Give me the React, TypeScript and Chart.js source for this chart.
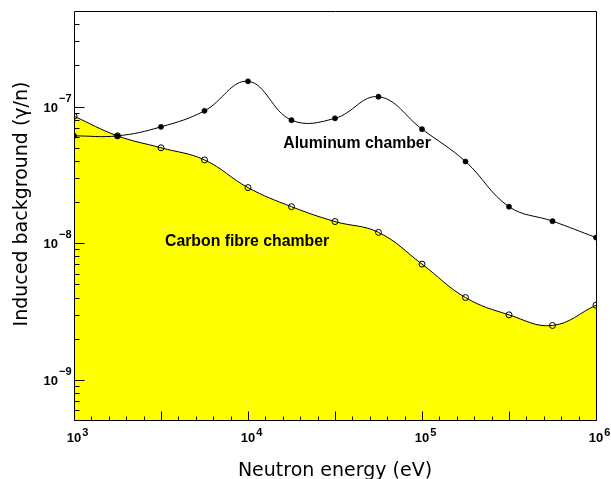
import React, { useEffect, useRef } from "react";
import { Chart, registerables } from "chart.js";

Chart.register(...registerables);

// Neutron energies (eV)
const energies = [1e3, 1778, 3162, 5623, 1e4, 17783, 31623, 56234, 1e5, 177828, 316228, 562341, 1e6];
// Induced background (gamma / n)
const aluminum = [6.1e-8, 6.1e-8, 7.1e-8, 9.3e-8, 1.53e-7, 7.95e-8, 8.2e-8, 1.18e-7, 6.83e-8, 3.96e-8, 1.85e-8, 1.45e-8, 1.1e-8];
const carbon = [8.5e-8, 6.1e-8, 4.99e-8, 4.07e-8, 2.55e-8, 1.85e-8, 1.44e-8, 1.2e-8, 7.03e-9, 4.0e-9, 2.99e-9, 2.5e-9, 3.52e-9];
const seriesNames = ["Aluminum chamber", "Carbon fibre chamber"];
// label anchors (data coordinates: energy, background)
const labelEnergy = [15960, 3334];
const labelValue = [5.33e-8, 1.03e-8];
// tick label exponents
const xTickExponents = [3, 4, 5, 6];
const yTickExponents = [-9, -8, -7];
const xTitle = "Neutron energy (eV)";
const yTitle = "Induced background (\u03B3/n)";
const xRange = [1e3, 1e6];
const yRange = [5e-10, 5e-7];

const decorPlugin = {
  id: "decor",
  afterDraw(chart: any) {
    const { ctx, chartArea: a, scales } = chart;
    const x = scales.x;
    const y = scales.y;
    ctx.save();
    ctx.strokeStyle = "#000";
    ctx.lineWidth = 1;
    const L = Math.round(a.left) + 0.5;
    const T = Math.round(a.top) + 0.5;
    const R = Math.round(a.right) + 0.5;
    const B = Math.round(a.bottom) - 0.5;
    ctx.beginPath();
    ctx.moveTo(L, T);
    ctx.lineTo(R, T);
    ctx.lineTo(R, B);
    ctx.lineTo(L, B);
    ctx.closePath();
    ctx.stroke();

    // ticks (inward)
    ctx.beginPath();
    const lx = Math.log10(xRange[0]);
    const hx = Math.log10(xRange[1]);
    const nx = Math.round((hx - lx) * 10);
    for (let k = 0; k <= nx; k++) {
      const v = Math.pow(10, lx + k / 10);
      const px = Math.round(x.getPixelForValue(v)) + 0.5;
      const len = k % 5 === 0 ? 9 : 4;
      ctx.moveTo(px, B);
      ctx.lineTo(px, B - len);
    }
    for (let d = -10; d <= -7; d++) {
      for (let m = 1; m <= 9; m++) {
        const v = m * Math.pow(10, d);
        if (v < yRange[0] * 1.001 || v > yRange[1] * 0.999) continue;
        const py = Math.round(y.getPixelForValue(v)) + 0.5;
        const len = m === 1 ? 10 : 5;
        ctx.moveTo(L, py);
        ctx.lineTo(L + len, py);
      }
    }
    ctx.stroke();

    // tick labels
    ctx.fillStyle = "#000";
    const baseFont = "bold 13px 'Liberation Sans', Arial, sans-serif";
    const expFont = "bold 11px 'Liberation Sans', Arial, sans-serif";
    ctx.textBaseline = "alphabetic";
    for (const e of xTickExponents) {
      const px = x.getPixelForValue(Math.pow(10, e));
      ctx.font = baseFont;
      ctx.textAlign = "center";
      ctx.fillText("10", px, a.bottom + 21);
      const w = ctx.measureText("10").width;
      ctx.font = expFont;
      ctx.textAlign = "left";
      ctx.fillText(String(e), px + w / 2 + 1, a.bottom + 15);
    }
    for (const e of yTickExponents) {
      const py = y.getPixelForValue(Math.pow(10, e));
      ctx.font = expFont;
      ctx.textAlign = "right";
      const expText = "\u2212" + String(Math.abs(e));
      ctx.fillText(expText, L - 3, py - 5);
      const ew = ctx.measureText(expText).width;
      ctx.font = baseFont;
      ctx.fillText("10", L - 4 - ew, py + 5);
    }

    // axis titles
    ctx.font = "19px 'DejaVu Sans', sans-serif";
    ctx.textAlign = "center";
    ctx.textBaseline = "alphabetic";
    ctx.fillText(xTitle, (a.left + a.right) / 2, 476);
    ctx.save();
    ctx.translate(27, 204);
    ctx.rotate(-Math.PI / 2);
    ctx.fillText(yTitle, 0, 0);
    ctx.restore();

    // series annotations
    ctx.font = "bold 15.8px 'Liberation Sans', Arial, sans-serif";
    ctx.textAlign = "left";
    ctx.textBaseline = "middle";
    for (let i = 0; i < seriesNames.length; i++) {
      ctx.fillText(seriesNames[i], x.getPixelForValue(labelEnergy[i]), y.getPixelForValue(labelValue[i]));
    }
    ctx.restore();
  },
};

export default function App() {
  const ref = useRef<HTMLCanvasElement | null>(null);
  useEffect(() => {
    document.body.style.margin = "0";
    const canvas = ref.current;
    if (!canvas) return;
    const chart = new Chart(canvas, {
      type: "line",
      data: {
        datasets: [
          {
            label: seriesNames[0],
            data: energies.map((e, i) => ({ x: e, y: aluminum[i] })),
            borderColor: "#000",
            borderWidth: 1,
            backgroundColor: "#000",
            pointBackgroundColor: "#000",
            pointBorderColor: "#000",
            pointRadius: 2.6,
            pointBorderWidth: 0.5,
            tension: 0.4,
            fill: false,
          },
          {
            label: seriesNames[1],
            data: energies.map((e, i) => ({ x: e, y: carbon[i] })),
            borderColor: "#000",
            borderWidth: 1,
            backgroundColor: "#ffff00",
            pointBackgroundColor: "rgba(0,0,0,0)",
            pointBorderColor: "#000",
            pointRadius: 3,
            pointBorderWidth: 1,
            tension: 0.4,
            fill: "start",
          },
        ],
      },
      options: {
        responsive: false,
        animation: false,
        events: [],
        layout: { padding: { left: 0, top: 11, right: 15, bottom: 0 } },
        plugins: { legend: { display: false }, tooltip: { enabled: false }, title: { display: false } },
        scales: {
          x: {
            type: "logarithmic",
            min: xRange[0],
            max: xRange[1],
            grid: { display: false },
            border: { display: false },
            ticks: { display: false },
            afterFit: (s: any) => {
              s.height = 58;
            },
          },
          y: {
            type: "logarithmic",
            min: yRange[0],
            max: yRange[1],
            grid: { display: false },
            border: { display: false },
            ticks: { display: false },
            afterFit: (s: any) => {
              s.width = 74;
            },
          },
        },
      },
      plugins: [decorPlugin],
    });
    return () => chart.destroy();
  }, []);
  return (
    <div style={{ width: 611, height: 479, background: "#fff" }}>
      <canvas ref={ref} width={611} height={479} style={{ display: "block" }} />
    </div>
  );
}
